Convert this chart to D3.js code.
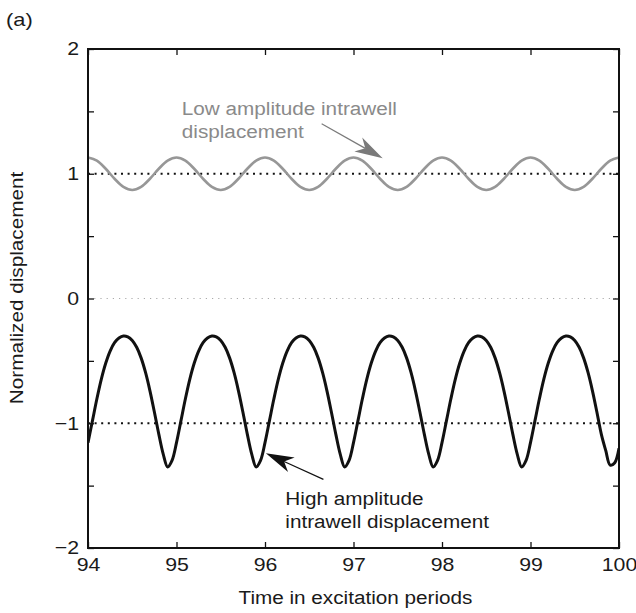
<!DOCTYPE html>
<html>
<head>
<meta charset="utf-8">
<script src="https://cdn.jsdelivr.net/npm/d3@7.9.0/dist/d3.min.js"></script>
<style>
  body { margin: 0; background: #fff; }
  svg text { font-family: "Liberation Sans", Arial, Helvetica, sans-serif; }
</style>
</head>
<body>
<svg id="chart" width="636" height="613"></svg>
<script>
// Values
const xTicks = [94, 95, 96, 97, 98, 99, 100];
const yTicks = [-2, -1.5, -1, -0.5, 0, 0.5, 1, 1.5, 2];

// high amplitude intrawell response (black), sampled every 0.05 periods from 94
const highDisp = [
  -1.155, -0.981, -0.806, -0.648, -0.519, -0.421, -0.354, -0.316, -0.300, -0.307, -0.336, -0.391, -0.476, -0.593, -0.740, -0.910, -1.087, -1.247, -1.350, -1.297,
  -1.155, -0.981, -0.806, -0.648, -0.519, -0.421, -0.354, -0.316, -0.300, -0.307, -0.336, -0.391, -0.476, -0.593, -0.740, -0.910, -1.087, -1.247, -1.350, -1.297,
  -1.155, -0.981, -0.806, -0.648, -0.519, -0.421, -0.354, -0.316, -0.300, -0.307, -0.336, -0.391, -0.476, -0.593, -0.740, -0.910, -1.087, -1.247, -1.350, -1.297,
  -1.155, -0.981, -0.806, -0.648, -0.519, -0.421, -0.354, -0.316, -0.300, -0.307, -0.336, -0.391, -0.476, -0.593, -0.740, -0.910, -1.087, -1.247, -1.350, -1.297,
  -1.155, -0.981, -0.806, -0.648, -0.519, -0.421, -0.354, -0.316, -0.300, -0.307, -0.336, -0.391, -0.476, -0.593, -0.740, -0.910, -1.087, -1.247, -1.350, -1.297,
  -1.155, -0.981, -0.806, -0.648, -0.519, -0.421, -0.354, -0.316, -0.300, -0.307, -0.336, -0.391, -0.476, -0.593, -0.740, -0.910, -1.087, -1.218, -1.336, -1.319,
  -1.200
];

// low amplitude intrawell response (grey), sampled every 0.1 periods from 94
const lowDisp = [
  1.130, 1.105, 1.040, 0.960, 0.895, 0.870, 0.895, 0.960, 1.040, 1.105,
  1.130, 1.105, 1.040, 0.960, 0.895, 0.870, 0.895, 0.960, 1.040, 1.105,
  1.130, 1.105, 1.040, 0.960, 0.895, 0.870, 0.895, 0.960, 1.040, 1.105,
  1.130, 1.105, 1.040, 0.960, 0.895, 0.870, 0.895, 0.960, 1.040, 1.105,
  1.130, 1.105, 1.040, 0.960, 0.895, 0.870, 0.895, 0.960, 1.040, 1.105,
  1.130, 1.105, 1.040, 0.960, 0.895, 0.870, 0.895, 0.960, 1.040, 1.105,
  1.130
];

const wellLevels = [1, -1];   // dotted stable equilibria
const zeroLevel = [0];        // faint dotted centre line

// annotation text lines and arrows (data coordinates)
const lowLabel = ["Low amplitude intrawell", "displacement"];
const highLabel = ["High amplitude", "intrawell displacement"];
const lowArrow = { from: [96.64, 1.40], to: [97.33, 1.125] };
const highArrow = { from: [96.66, -1.45], to: [96.01, -1.24] };

const W = 636, H = 613;
const margin = { top: 49, right: 17, bottom: 65, left: 88 };
const width = W - margin.left - margin.right;
const height = H - margin.top - margin.bottom;

const svg = d3.select('#chart');
const g = svg.append('g').attr('transform', `translate(${margin.left},${margin.top})`);

const x = d3.scaleLinear().domain([94, 100]).range([0, width]);
const y = d3.scaleLinear().domain([-2, 2]).range([height, 0]);

g.append('clipPath').attr('id', 'plotclip')
  .append('rect').attr('width', width).attr('height', height);

// dotted reference lines
g.selectAll('.zero')
  .data(zeroLevel)
  .join('line')
  .attr('x1', 0).attr('x2', width)
  .attr('y1', d => y(d)).attr('y2', d => y(d))
  .attr('stroke', '#aaa')
  .attr('stroke-width', 1.2)
  .attr('stroke-dasharray', '1.2,5');

g.selectAll('.well')
  .data(wellLevels)
  .join('line')
  .attr('x1', 0).attr('x2', width)
  .attr('y1', d => y(d)).attr('y2', d => y(d))
  .attr('stroke', '#111')
  .attr('stroke-width', 2)
  .attr('stroke-dasharray', '2,4.6');

// curves
const highPts = highDisp.map((v, i) => [94 + i * 0.05, v]);
const lowPts = lowDisp.map((v, i) => [94 + i * 0.1, v]);

const line = d3.line()
  .x(d => x(d[0]))
  .y(d => y(d[1]))
  .curve(d3.curveCatmullRom.alpha(0.5));

const curves = g.append('g').attr('clip-path', 'url(#plotclip)');

curves.append('path')
  .datum(lowPts)
  .attr('d', line)
  .attr('fill', 'none')
  .attr('stroke', '#979797')
  .attr('stroke-width', 2.6);

curves.append('path')
  .datum(highPts)
  .attr('d', line)
  .attr('fill', 'none')
  .attr('stroke', '#111')
  .attr('stroke-width', 3);

// axes: ticks point inwards, mirrored on top and right
const fmt = d => Number.isInteger(d) ? d3.format('d')(d) : '';

const axBottom = g.append('g')
  .attr('transform', `translate(0,${height})`)
  .call(d3.axisBottom(x).tickValues(xTicks).tickSizeInner(-6).tickSizeOuter(0).tickPadding(10).tickFormat(d3.format('d')));
const axTop = g.append('g')
  .call(d3.axisTop(x).tickValues(xTicks).tickSizeInner(-6).tickSizeOuter(0).tickFormat(''));
const axLeft = g.append('g')
  .call(d3.axisLeft(y).tickValues(yTicks).tickSizeInner(-6).tickSizeOuter(0).tickPadding(9).tickFormat(fmt));
const axRight = g.append('g')
  .attr('transform', `translate(${width},0)`)
  .call(d3.axisRight(y).tickValues(yTicks).tickSizeInner(-6).tickSizeOuter(0).tickFormat(''));

[axBottom, axTop, axLeft, axRight].forEach(ax => {
  ax.select('.domain').remove();
  ax.selectAll('.tick line').attr('stroke', '#111').attr('stroke-width', 1.3);
  ax.selectAll('.tick text').attr('fill', '#1a1a1a').style('font-size', '18.5px');
});

// plot frame
g.append('rect')
  .attr('width', width).attr('height', height)
  .attr('fill', 'none')
  .attr('stroke', '#111')
  .attr('stroke-width', 2);

// axis titles
svg.append('text')
  .attr('x', margin.left + width / 2 + 2)
  .attr('y', 604)
  .attr('text-anchor', 'middle')
  .attr('fill', '#1a1a1a')
  .style('font-size', '18px')
  .text('Time in excitation periods');

svg.append('text')
  .attr('transform', 'translate(23,288) rotate(-90)')
  .attr('text-anchor', 'middle')
  .attr('fill', '#1a1a1a')
  .style('font-size', '18px')
  .text('Normalized displacement');

svg.append('text')
  .attr('x', 6).attr('y', 26)
  .attr('fill', '#1a1a1a')
  .style('font-size', '19px')
  .text('(a)');

// annotations
function addLabel(lines, x0, y0, color) {
  g.append('text')
    .attr('fill', color)
    .style('font-size', '18px')
    .selectAll('tspan')
    .data(lines)
    .join('tspan')
    .attr('x', x(x0))
    .attr('y', (d, i) => y(y0) + i * 23)
    .text(d => d);
}
addLabel(lowLabel, 95.06, 1.47, '#8a8a8a');
addLabel(highLabel, 96.23, -1.655, '#1a1a1a');

function addArrow(a, color) {
  const x1 = x(a.from[0]), y1 = y(a.from[1]);
  const x2 = x(a.to[0]), y2 = y(a.to[1]);
  const ang = Math.atan2(y2 - y1, x2 - x1);
  const len = 28, half = 8, notch = 20;
  const ux = Math.cos(ang), uy = Math.sin(ang);
  const bx = x2 - ux * len, by = y2 - uy * len;
  const nx = x2 - ux * notch, ny = y2 - uy * notch;
  g.append('line')
    .attr('x1', x1).attr('y1', y1).attr('x2', nx).attr('y2', ny)
    .attr('stroke', color).attr('stroke-width', 1.2);
  g.append('path')
    .attr('d', `M${x2},${y2}L${bx - uy * half},${by + ux * half}L${nx},${ny}L${bx + uy * half},${by - ux * half}Z`)
    .attr('fill', color);
}
addArrow(lowArrow, '#7a7a7a');
addArrow(highArrow, '#111');

// the printed figure uses a slightly wide typeface
svg.selectAll('text').each(function () {
  const t = d3.select(this);
  if (t.selectAll('tspan').size() > 0) {
    t.selectAll('tspan').each(function () {
      const len = this.getComputedTextLength();
      if (len > 0) d3.select(this).attr('textLength', len * 1.15).attr('lengthAdjust', 'spacingAndGlyphs');
    });
  } else {
    const len = this.getComputedTextLength();
    if (len > 0) t.attr('textLength', len * 1.15).attr('lengthAdjust', 'spacingAndGlyphs');
  }
});
</script>
</body>
</html>
